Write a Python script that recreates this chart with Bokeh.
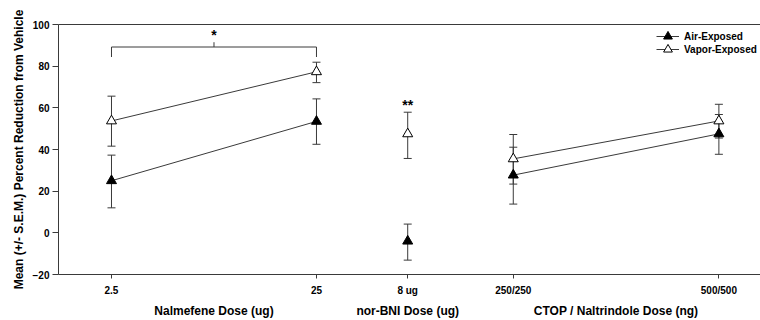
import math
from bokeh.plotting import figure
from bokeh.models import (Range1d, LinearAxis, FixedTicker, Whisker, TeeHead, ColumnDataSource,
                          Legend, LegendItem)
from bokeh.core.properties import value
from bokeh.embed import file_html
from bokeh.resources import INLINE

# ---- data ----
dose_labels = ["2.5", "25", "8 ug", "250/250", "500/500"]
dose_x = [0.0, 1.0, 1.445, 1.96, 2.963]
dose_group = ["Nalmefene Dose (ug)", "Nalmefene Dose (ug)", "nor-BNI Dose (ug)",
              "CTOP / Naltrindole Dose (ng)", "CTOP / Naltrindole Dose (ng)"]
group_names = ["Nalmefene Dose (ug)", "nor-BNI Dose (ug)", "CTOP / Naltrindole Dose (ng)"]

air_mean = [25.0, 53.5, -4.0, 27.7, 47.5]
air_lo = [12.0, 42.5, -13.1, 13.8, 37.7]
air_hi = [37.3, 64.3, 4.2, 41.1, 56.8]

vapor_mean = [53.7, 77.3, 47.5, 35.5, 53.7]
vapor_lo = [41.6, 72.1, 35.7, 23.4, 45.5]
vapor_hi = [65.6, 81.9, 57.9, 47.2, 61.7]

y_ticks = [-20, 0, 20, 40, 60, 80, 100]

# significance annotations
bracket_groups = [0, 1]          # indices of doses joined by bracket
bracket_level = 89.2
bracket_drop = 84.4
bracket_top = 91.5
bracket_text = "*"
bracket_text_y = 95.0
nor_sig_index = 2
nor_sig_text = "**"
nor_sig_y = 61.5

FONT = "Liberation Sans"
AX_COL = "#3a3a3a"

p = figure(width=760, height=320, output_backend="svg", toolbar_location=None,
           x_range=Range1d(-0.2585, 3.166), y_range=Range1d(-20, 100),
           min_border_left=58, min_border_right=0, min_border_top=24, min_border_bottom=45,
           x_axis_location=None, y_axis_location=None)
p.outline_line_color = None
p.grid.visible = False
p.background_fill_color = "white"
p.border_fill_color = "white"

# Y axis
yax = LinearAxis(ticker=FixedTicker(ticks=y_ticks),
                 axis_label="Mean (+/- S.E.M.) Percent Reduction from Vehicle")
yax.axis_line_color = AX_COL
yax.major_tick_line_color = AX_COL
yax.major_tick_out = 6
yax.major_tick_in = 0
yax.minor_tick_line_color = None
yax.major_label_text_font = FONT
yax.major_label_text_font_style = "bold"
yax.major_label_text_font_size = "10px"
yax.major_label_text_color = "black"
yax.major_label_standoff = 3
yax.axis_label_text_font = FONT
yax.axis_label_text_font_style = "bold"
yax.axis_label_text_font_size = "12px"
yax.axis_label_text_color = "black"
yax.axis_label_standoff = 4
p.add_layout(yax, "left")

# X axis (dose ticks)
xax = LinearAxis(ticker=FixedTicker(ticks=dose_x))
xax.major_label_overrides = {x: lab for x, lab in zip(dose_x, dose_labels)}
xax.axis_line_color = AX_COL
xax.major_tick_line_color = AX_COL
xax.major_tick_out = 4
xax.major_tick_in = 0
xax.minor_tick_line_color = None
xax.major_label_text_font = FONT
xax.major_label_text_font_style = "bold"
xax.major_label_text_font_size = "10px"
xax.major_label_text_color = "black"
xax.major_label_standoff = 6
p.add_layout(xax, "below")

# Group labels as second axis
centers = []
for g in group_names:
    xs = [x for x, gg in zip(dose_x, dose_group) if gg == g]
    centers.append(sum(xs) / len(xs))
gax = LinearAxis(ticker=FixedTicker(ticks=centers))
gax.major_label_overrides = {c: g for c, g in zip(centers, group_names)}
gax.axis_line_color = None
gax.major_tick_line_color = None
gax.minor_tick_line_color = None
gax.major_tick_out = 0
gax.major_label_text_font = FONT
gax.major_label_text_font_style = "bold"
gax.major_label_text_font_size = "12px"
gax.major_label_text_color = "black"
gax.major_label_standoff = 5
p.add_layout(gax, "below")

# top frame line
tax = LinearAxis(ticker=FixedTicker(ticks=[]))
tax.axis_line_color = AX_COL
tax.major_label_text_font_size = "0px"
tax.major_tick_line_color = None
tax.minor_tick_line_color = None
p.add_layout(tax, "above")

# error bars
for lo, hi in [(air_lo, air_hi), (vapor_lo, vapor_hi)]:
    src = ColumnDataSource(dict(x=dose_x, lo=lo, hi=hi))
    w = Whisker(source=src, base="x", lower="lo", upper="hi", dimension="height",
                line_color=AX_COL, line_width=1, level="underlay",
                upper_head=TeeHead(size=8, line_color=AX_COL, line_width=1),
                lower_head=TeeHead(size=8, line_color=AX_COL, line_width=1))
    p.add_layout(w)

# connecting lines per group
line_r = {}
for name, ys in [("air", air_mean), ("vapor", vapor_mean)]:
    for g in group_names:
        xs = [x for x, gg in zip(dose_x, dose_group) if gg == g]
        yy = [y for y, gg in zip(ys, dose_group) if gg == g]
        if len(xs) > 1:
            r = p.line(xs, yy, line_color=AX_COL, line_width=1)
            line_r.setdefault(name, r)

air_r = p.scatter(dose_x, air_mean, marker="triangle", size=10,
                  fill_color="black", line_color="black")
vap_r = p.scatter(dose_x, vapor_mean, marker="triangle", size=10,
                  fill_color="white", line_color="black", line_width=1)

# significance bracket
bx0 = dose_x[bracket_groups[0]]
bx1 = dose_x[bracket_groups[1]]
bmid = (bx0 + bx1) / 2
p.multi_line([[bx0, bx0, bx1, bx1], [bmid, bmid]],
             [[bracket_drop, bracket_level, bracket_level, bracket_drop], [bracket_level, bracket_top]],
             line_color=AX_COL, line_width=1)
p.text([bmid], [bracket_text_y], text=[bracket_text], text_font=value(FONT),
       text_font_style="bold", text_font_size="14px", text_align="center",
       text_baseline="middle", text_color="black")
p.text([dose_x[nor_sig_index]], [nor_sig_y], text=[nor_sig_text], text_font=value(FONT),
       text_font_style="bold", text_font_size="14px", text_align="center",
       text_baseline="middle", text_color="black")

for label, key, rend, loc_y in [("Air-Exposed", "air", air_r, 227),
                                ("Vapor-Exposed", "vapor", vap_r, 214)]:
    legend = Legend(items=[LegendItem(label=label, renderers=[line_r[key], rend])],
                    location=(598, loc_y))
    legend.background_fill_alpha = 0
    legend.border_line_color = None
    legend.padding = 0
    legend.margin = 0
    legend.spacing = 0
    legend.glyph_width = 23
    legend.glyph_height = 22
    legend.label_height = 12
    legend.label_standoff = 5
    legend.label_text_font = FONT
    legend.label_text_font_style = "bold"
    legend.label_text_font_size = "10px"
    legend.label_text_color = "black"
    p.add_layout(legend, "center")

open("out.html", "w").write(file_html(p, INLINE))
